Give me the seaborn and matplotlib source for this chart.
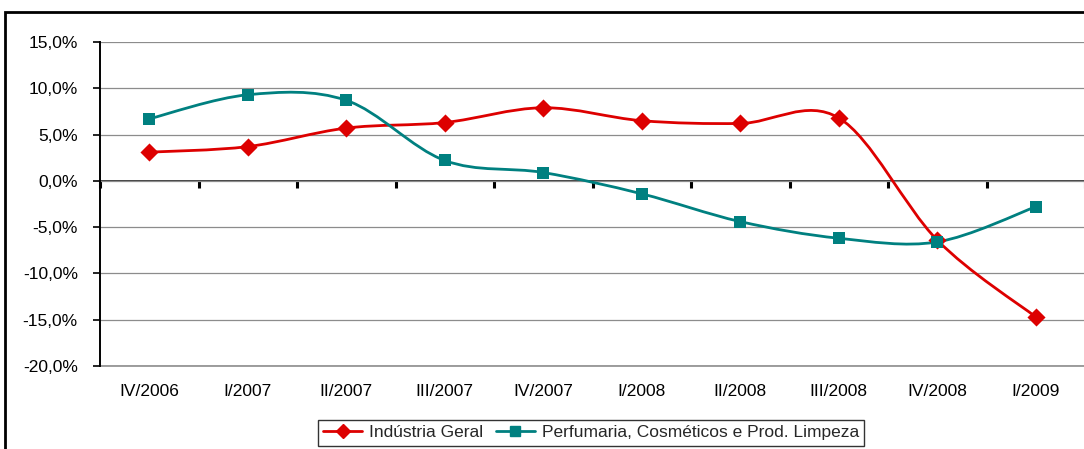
import numpy as np
import matplotlib as mpl
mpl.use("Agg")
import matplotlib.pyplot as plt
from matplotlib.path import Path
from matplotlib.patches import PathPatch, Rectangle
from matplotlib.lines import Line2D
from matplotlib.ticker import FuncFormatter, FixedLocator, NullFormatter
import seaborn as sns

# ---------------- data ----------------
quarters = ["IV/2006", "I/2007", "II/2007", "III/2007", "IV/2007",
            "I/2008", "II/2008", "III/2008", "IV/2008", "I/2009"]
industria_geral = [3.1, 3.7, 5.7, 6.3, 7.9, 6.5, 6.2, 6.8, -6.4, -14.7]
perfumaria = [6.7, 9.3, 8.7, 2.2, 0.9, -1.4, -4.4, -6.2, -6.6, -2.8]
series_names = ["Indústria Geral", "Perfumaria, Cosméticos e Prod. Limpeza"]
y_ticks = [-20, -15, -10, -5, 0, 5, 10, 15]

RED = "#DD0000"
TEAL = "#008080"

sns.set_theme(style="white")
plt.rcParams["font.family"] = ["Liberation Sans", "DejaVu Sans"]
plt.rcParams["font.size"] = 12.5


def smooth_path(xs, ys):
    # Excel-style smoothed line: cubic Bezier segments through the data points
    pts = np.column_stack([xs, ys]).astype(float)
    ext = np.vstack([pts[0], pts, pts[-1]])
    verts = [tuple(pts[0])]
    codes = [Path.MOVETO]
    for i in range(len(pts) - 1):
        p0, p1, p2, p3 = ext[i], ext[i + 1], ext[i + 2], ext[i + 3]
        c1 = p1 + (p2 - p0) / 6.0
        c2 = p2 - (p3 - p1) / 6.0
        verts += [tuple(c1), tuple(c2), tuple(p2)]
        codes += [Path.CURVE4] * 3
    return Path(verts, codes)


fig = plt.figure(figsize=(10.84, 4.49), dpi=100)
ax = fig.add_axes([100 / 1084, 1 - 366 / 449, 985 / 1084, 324 / 449])

x = np.arange(len(quarters))
for vals, color, marker, ms in [(industria_geral, RED, "D", 85),
                                (perfumaria, TEAL, "s", 70)]:
    ax.add_patch(PathPatch(smooth_path(x, vals), facecolor="none",
                           edgecolor=color, lw=2, zorder=3))
    sns.scatterplot(x=x, y=vals, marker=marker, s=ms, color=color,
                    edgecolor=color, linewidth=0, zorder=4, ax=ax)

ax.set_xlim(-0.5, len(quarters) - 0.5)
ax.set_ylim(-20, 15)
ax.set_yticks(y_ticks)
ax.yaxis.set_major_formatter(FuncFormatter(lambda v, p: f"{v:.1f}%".replace(".", ",")))
ax.yaxis.grid(True, color="#8c8c8c", lw=0.9)
ax.axhline(-20, color="#8c8c8c", lw=1.2, clip_on=False, zorder=1)
ax.set_axisbelow(True)

ax.set_xticks(x)
ax.set_xticklabels(quarters)
ax.tick_params(axis="x", length=0, pad=13, labelsize=12.5, colors="black")
ax.tick_params(axis="y", length=5, width=1.2, direction="out", left=True,
               labelsize=12.5, colors="black", pad=11)

for s in ["top", "right", "bottom"]:
    ax.spines[s].set_visible(False)
ax.spines["left"].set_color("black")
ax.spines["left"].set_linewidth(1.4)

# zero axis with category boundary ticks pointing down
zero_ax = ax.secondary_xaxis(20 / 35)
zero_ax.spines["bottom"].set_linewidth(2.8)
zero_ax.spines["bottom"].set_color("black")
zero_ax.xaxis.set_major_locator(FixedLocator(np.arange(-0.5, len(quarters), 1.0)))
zero_ax.xaxis.set_major_formatter(NullFormatter())
zero_ax.tick_params(axis="x", length=5, width=2.2, direction="in", colors="black")

# legend
handles = [
    Line2D([], [], color=RED, lw=2, marker="D", markersize=7.5, label=series_names[0]),
    Line2D([], [], color=TEAL, lw=2, marker="s", markersize=7.5, label=series_names[1]),
]
leg = fig.legend(handles=handles, loc="upper center", bbox_to_anchor=(591 / 1084, 1 - 420 / 449),
                 ncol=2, frameon=True, fancybox=False, fontsize=12.5, handlelength=2.25,
                 handletextpad=0.4, columnspacing=0.7, borderpad=0.3, borderaxespad=0)
leg.get_frame().set_edgecolor("black")
leg.get_frame().set_linewidth(1.0)

# outer chart border and cut-off title
fig.patches.append(Rectangle((5 / 1084, -0.1), 1.2, 1 - 12 / 449 + 0.1,
                             transform=fig.transFigure, fill=False,
                             edgecolor="black", lw=2))
fig.text(213 / 1084, 1 + 6 / 449, "(", ha="center", va="baseline", fontsize=11)
fig.text(322 / 1084, 1 + 6 / 449, ")", ha="center", va="baseline", fontsize=11)

fig.savefig("out.png", dpi=100)
